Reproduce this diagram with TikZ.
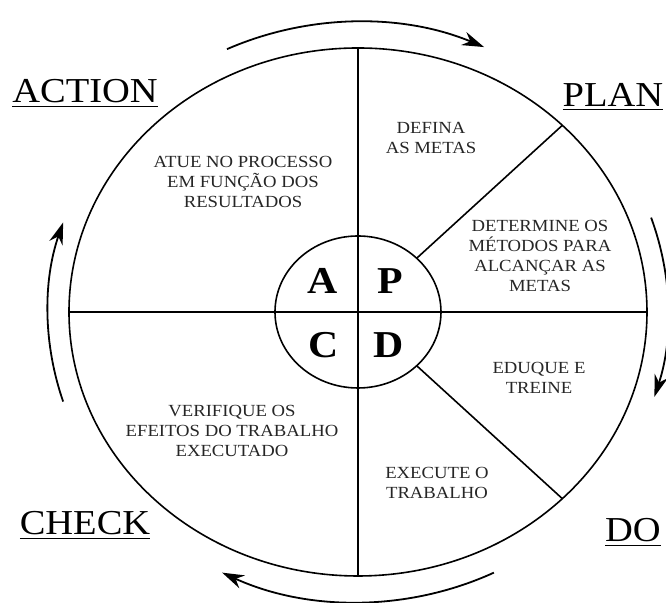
\documentclass[tikz,border=0pt]{standalone}
\usepackage{fontspec}
\setmainfont{Liberation Serif}[FakeStretch=1.1]
\usetikzlibrary{arrows.meta}

\begin{document}
\begin{tikzpicture}[x=0.5pt,y=0.5pt,
          fase/.style={font=\fontsize{17.5}{20}\selectfont, anchor=base},
          letra/.style={font=\fontsize{19}{20}\selectfont\bfseries},
          passo/.style={font=\fontsize{8.5}{10}\selectfont, align=center, text=black!85},
          divisao/.style={line width=0.8pt},
          ciclo/.style={line width=0.9pt, -{Stealth[length=11pt,width=7pt]}}]

        \useasboundingbox (-358,-291) rectangle (308,312);

        \coordinate (c)    at (0,0);
        \coordinate (topo) at (0,264);
        \coordinate (base) at (0,-264);
        \coordinate (esq)  at (-289,0);
        \coordinate (dir)  at (289,0);
        \coordinate (pe1)  at (45:289 and 264);
        \coordinate (pi1)  at (45:83 and 76);
        \coordinate (pe2)  at (-45:289 and 264);
        \coordinate (pi2)  at (-45:83 and 76);

        \draw[divisao] (c) ellipse [x radius=289, y radius=264];
        \draw[divisao] (c) ellipse [x radius=83, y radius=76];
        \draw[divisao] (topo) -- (base);
        \draw[divisao] (esq)  -- (dir);
        \draw[divisao] (pi1)  -- (pe1);
        \draw[divisao] (pi2)  -- (pe2);

        \node[letra] (a) at (-35,31)  {A};
        \node[letra] (p) at (32,31)   {P};
        \node[letra] (k) at (-34,-33) {C};
        \node[letra] (d) at (31,-33)  {D};

        \node[passo] (atue)  at (-115,130) {ATUE NO PROCESSO\\EM FUNÇÃO DOS\\RESULTADOS};
        \node[passo] (metas) at (73,174)   {DEFINA\\AS METAS};
        \node[passo] (metod) at (182,56)   {DETERMINE OS\\MÉTODOS PARA\\ALCANÇAR AS\\METAS};
        \node[passo] (treino) at (181,-66) {EDUQUE E\\TREINE};
        \node[passo] (exec)  at (79,-171)  {EXECUTE O\\TRABALHO};
        \node[passo] (verif) at (-126,-119) {VERIFIQUE OS\\EFEITOS DO TRABALHO\\EXECUTADO};

        \node[fase] (action) at (-273,209) {\underline{ACTION}};
        \node[fase] (plan)   at (255,205)  {\underline{PLAN}};
        \node[fase] (check)  at (-273,-223) {\underline{CHECK}};
        \node[fase] (do)     at (275,-230) {\underline{DO}};

        \draw[ciclo] (115:310 and 290) arc[start angle=115, end angle=66, x radius=310, y radius=290];
        \draw[ciclo] (19:310 and 290)  arc[start angle=19, end angle=-17, x radius=310, y radius=290];
        \draw[ciclo] (-64:310 and 290) arc[start angle=-64, end angle=-116, x radius=310, y radius=290];
        \draw[ciclo] (198:310 and 290) arc[start angle=198, end angle=162, x radius=310, y radius=290];

      \end{tikzpicture}
\end{document}
